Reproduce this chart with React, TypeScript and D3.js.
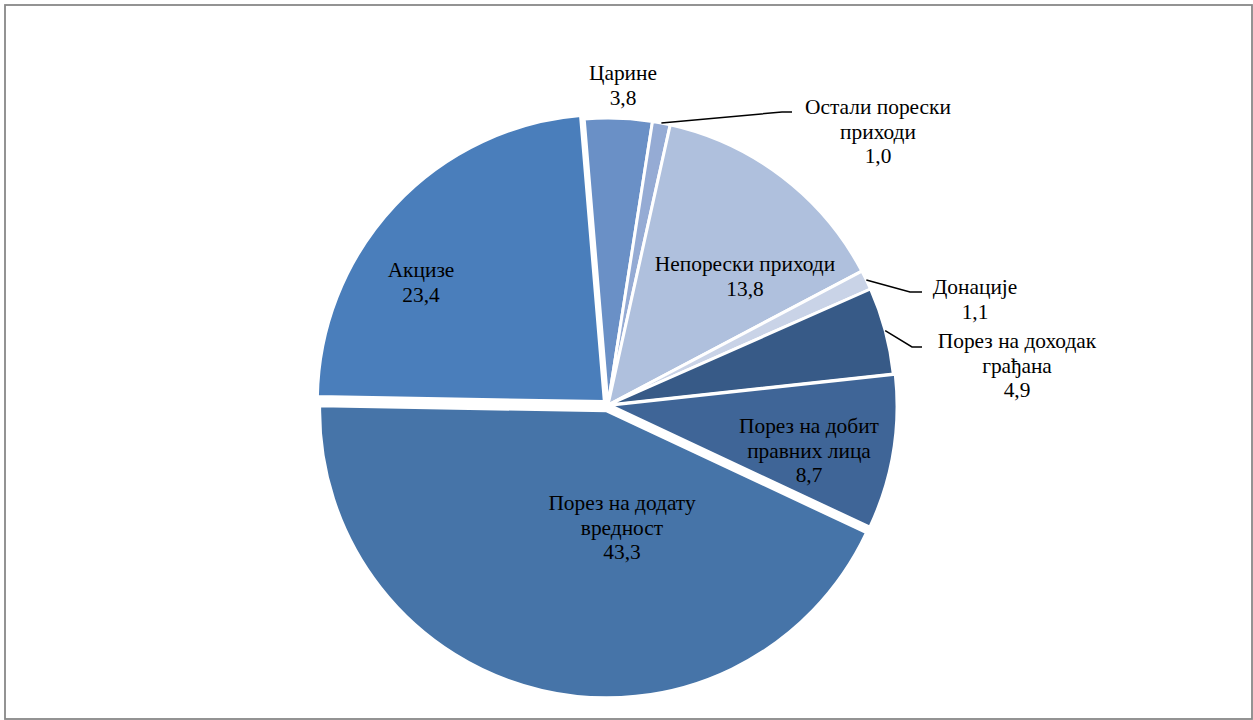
import React, { useEffect, useState } from "react";
import * as d3 from "d3";

const categories = [
  "Акцизе",
  "Царине",
  "Остали порески приходи",
  "Непорески приходи",
  "Донације",
  "Порез на доходак грађана",
  "Порез на добит правних лица",
  "Порез на додату вредност",
];
const values = [23.4, 3.8, 1.0, 13.8, 1.1, 4.9, 8.7, 43.3];
const valueLabels = ["23,4", "3,8", "1,0", "13,8", "1,1", "4,9", "8,7", "43,3"];
const labelLines = [
  ["Акцизе"],
  ["Царине"],
  ["Остали порески", "приходи"],
  ["Непорески приходи"],
  ["Донације"],
  ["Порез на доходак", "грађана"],
  ["Порез на добит", "правних лица"],
  ["Порез на додату", "вредност"],
];
const colors = ["#4A7EBB", "#6A90C6", "#95ABD4", "#AFC0DD", "#C9D3E7", "#375A87", "#3F6597", "#4674A8"];
const explode = [5, 0, 0, 0, 0, 0, 2, 6];
// label anchors (layout): center x, first line center y
const labelAnchor: [number, number][] = [
  [421, 270],
  [623, 73],
  [878, 107],
  [745, 264],
  [975, 287],
  [1017, 341],
  [809, 426],
  [622, 503],
];
// leader elbows for outside labels (layout)
const leaderElbow: ([number, number, number] | null)[] = [
  null, null, [782, 112, 792], null, [910, 292, 922], [912, 347, 922], null, null,
];

const W = 1253, H = 720;
const cx = 608, cy = 405, R = 287;
const rot = (1 * Math.PI) / 180;
const FS = 21.4;
const LH = 24.5;

export default function App() {
  const [ready, setReady] = useState(false);
  useEffect(() => {
    const f: any = (document as any).fonts;
    if (f && f.load) {
      f.load('20px "Liberation Serif"', "Порез").then(() => setReady(true)).catch(() => setReady(true));
    } else setReady(true);
  }, []);

  const pie = d3
    .pie<number>()
    .sort(null)
    .value((d) => d)
    .startAngle(-Math.PI / 2 + rot)
    .endAngle((3 * Math.PI) / 2 + rot);
  const arcs = pie(values);
  const arc = d3.arc<d3.PieArcDatum<number>>().innerRadius(0).outerRadius(R);
  const rim = d3.arc<d3.PieArcDatum<number>>().innerRadius(R).outerRadius(R);

  return (
    <svg width={W} height={H} style={{ position: "absolute", left: 0, top: 0, background: "#fff" }}>
      <rect x={5} y={5} width={1247} height={714} fill="#fff" stroke="#888" strokeWidth={1.8} />
      <g transform={`translate(${cx},${cy})`}>
        {arcs.map((a, i) => {
          const mid = (a.startAngle + a.endAngle) / 2;
          const dx = explode[i] * Math.sin(mid);
          const dy = -explode[i] * Math.cos(mid);
          return (
            <path key={i} d={arc(a) || ""} transform={`translate(${dx},${dy})`}
              fill={colors[i]} stroke="#fff" strokeWidth={3} strokeLinejoin="round" />
          );
        })}
      </g>
      {arcs.map((a, i) => {
        const e = leaderElbow[i];
        if (!e) return null;
        const [sx, sy] = rim.centroid(a);
        return (
          <polyline key={"l" + i}
            points={`${cx + sx},${cy + sy} ${e[0]},${e[1]} ${e[2]},${e[1]}`}
            fill="none" stroke="#000" strokeWidth={1.5} />
        );
      })}
      <g key={ready ? "r" : "n"}>
        {categories.map((c, i) => {
          const lines = [...labelLines[i], valueLabels[i]];
          const [x, y] = labelAnchor[i];
          return (
            <text key={"t" + i} x={x} fill="#000" textAnchor="middle" dominantBaseline="central"
              style={{ fontFamily: '"Liberation Serif"', fontSize: FS }}>
              {lines.map((ln, j) => (
                <tspan key={j} x={x} y={y + j * LH}>{ln}</tspan>
              ))}
            </text>
          );
        })}
      </g>
    </svg>
  );
}
